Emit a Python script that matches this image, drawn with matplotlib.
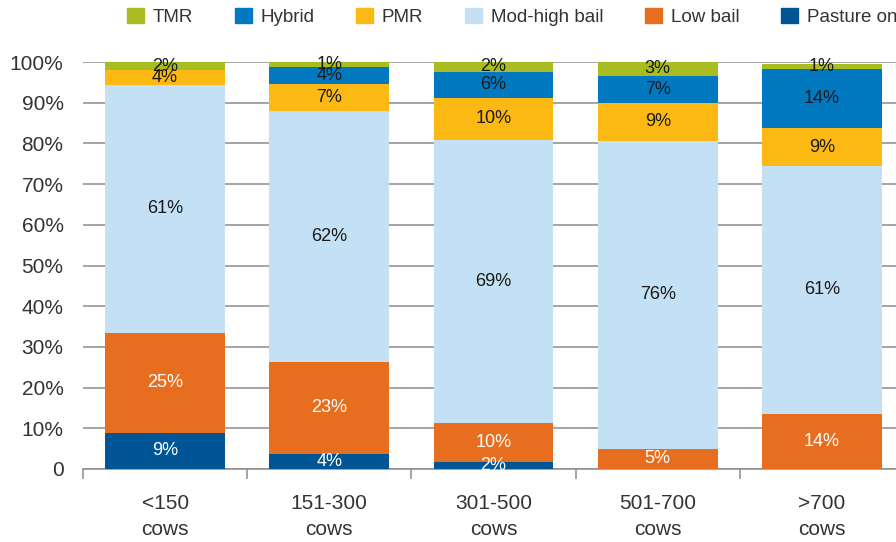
import numpy as np
import matplotlib
matplotlib.use('Agg')
import matplotlib.pyplot as plt
from matplotlib.patches import Patch

plt.rcParams['font.family'] = ['Liberation Sans', 'DejaVu Sans']

categories = ['<150\ncows', '151-300\ncows', '301-500\ncows', '501-700\ncows', '>700\ncows']

# share of farms (%) per system (bottom to top)
pasture_only = [8.9, 3.8, 1.8, 0.0, 0.0]
low_bail = [24.6, 22.6, 9.6, 5.0, 13.6]
mod_high_bail = [60.8, 61.6, 69.4, 75.6, 60.8]
pmr = [3.8, 6.6, 10.4, 9.4, 9.4]
hybrid = [0.0, 4.2, 6.4, 6.6, 14.4]
tmr = [1.8, 1.2, 2.4, 3.4, 1.4]

series = [
    ('Pasture only', pasture_only, '#005596', 'white'),
    ('Low bail', low_bail, '#E86E1F', 'white'),
    ('Mod-high bail', mod_high_bail, '#C3E0F5', '#1a1a1a'),
    ('PMR', pmr, '#FDB913', '#1a1a1a'),
    ('Hybrid', hybrid, '#0079C1', '#1a1a1a'),
    ('TMR', tmr, '#A9BD22', '#1a1a1a'),
]

fig = plt.figure(figsize=(8.96, 5.42), dpi=100)
ax = fig.add_axes([83 / 896, 73 / 542, 821 / 896, 407 / 542])

x = np.arange(len(categories))
bottom = np.zeros(len(categories))
for name, vals, col, tcol in series:
    vals = np.array(vals)
    ax.bar(x, vals, width=0.73, bottom=bottom, color=col, zorder=3)
    for xi, b, v in zip(x, bottom, vals):
        if v > 0:
            ax.text(xi, b + v / 2, f'{round(v)}%', ha='center', va='center',
                    fontsize=13, color=tcol, zorder=4)
    bottom += vals

ax.set_xlim(-0.5, 4.5)
ax.set_ylim(0, 100)

# y axis
ax.set_yticks(np.arange(0, 101, 10))
ax.set_yticklabels(['0'] + [f'{v}%' for v in range(10, 101, 10)])
ax.tick_params(axis='y', length=0, pad=14, labelsize=15, labelcolor='#333333')
ax.yaxis.grid(True, color='#8c8c8c', linewidth=1.1, zorder=0)

# x axis: boundary ticks, labels at centres
ax.set_xticks(np.arange(-0.5, 4.6, 1.0))
ax.set_xticklabels([])
ax.tick_params(axis='x', which='major', length=7, direction='out', color='#8c8c8c', width=1.1)
ax.set_xticks(x, minor=True)
ax.set_xticklabels(categories, minor=True, linespacing=1.45)
ax.tick_params(axis='x', which='minor', length=0, pad=18, labelsize=15, labelcolor='#333333')

for s in ['top', 'right', 'left']:
    ax.spines[s].set_visible(False)
ax.spines['bottom'].set_color('#8c8c8c')
ax.spines['bottom'].set_linewidth(1.1)
ax.set_axisbelow(True)

handles = [Patch(color=c, label=n) for n, _, c, _ in series[::-1]]
fig.legend(handles=handles, ncol=6, loc='center left', bbox_to_anchor=(110 / 896, 1 - 17 / 542),
           frameon=False, fontsize=13.5, handlelength=0.9, handleheight=0.9,
           handletextpad=0.45, columnspacing=2.25, labelcolor='#333333')

fig.savefig('out.png', dpi=100)
